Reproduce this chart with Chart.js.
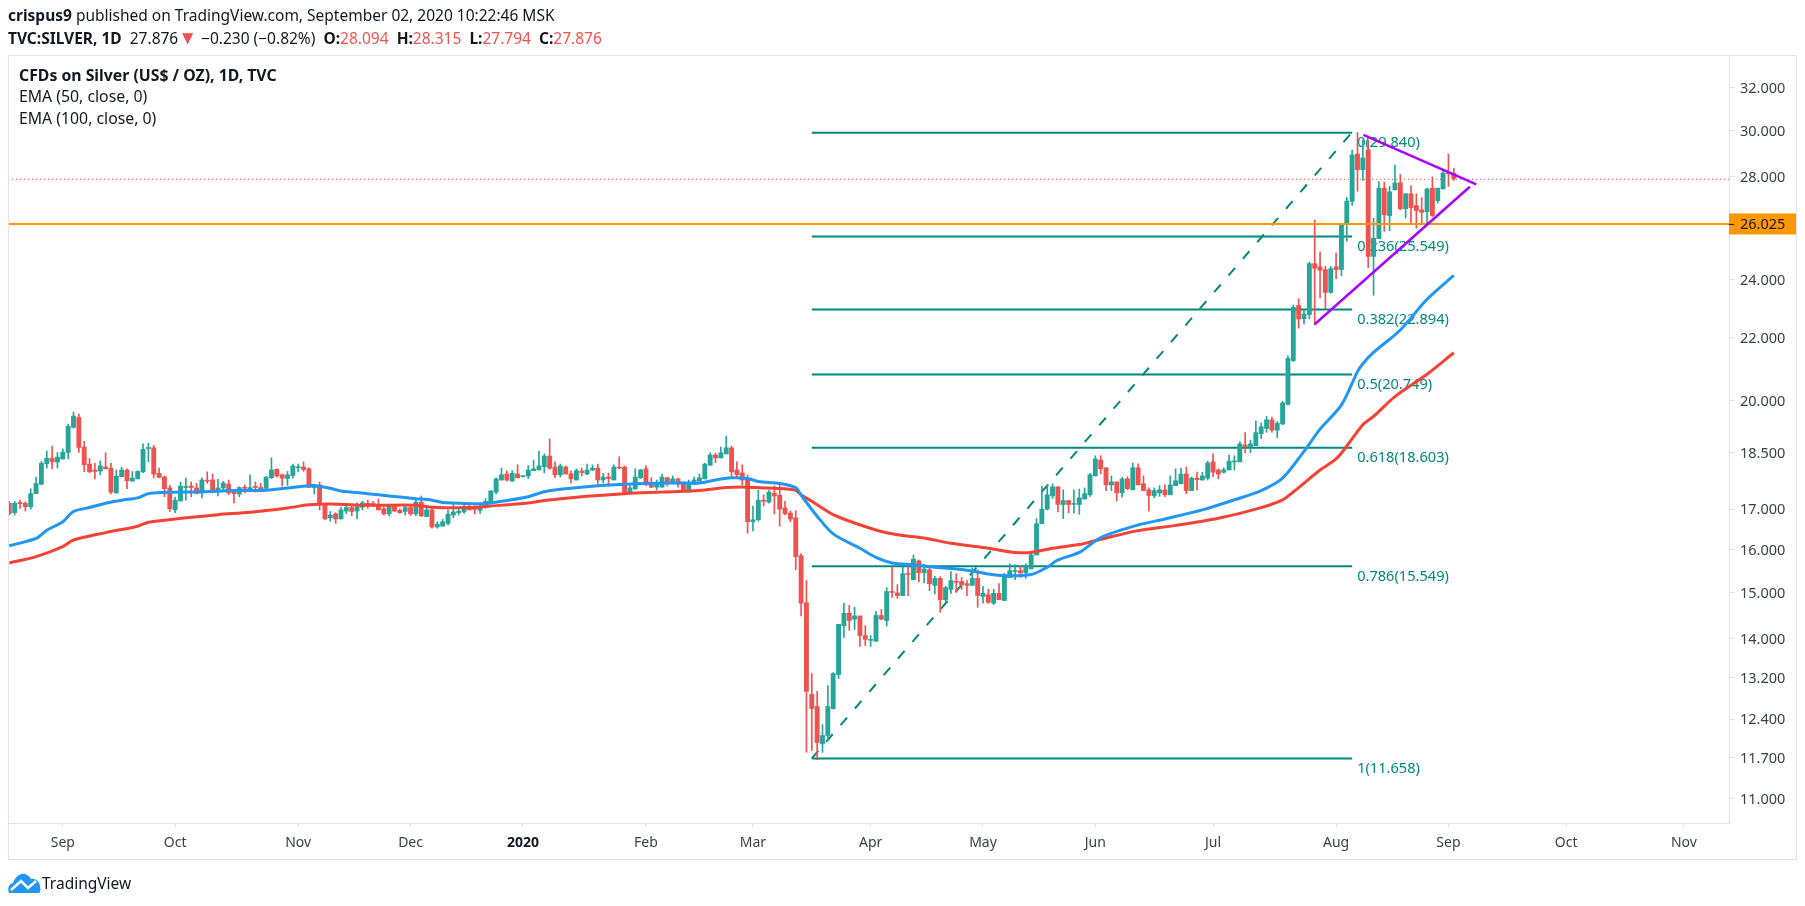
<!DOCTYPE html>
<html>
<head>
<meta charset="utf-8">
<title>TVC:SILVER, 1D</title>
<script src="https://cdn.jsdelivr.net/npm/chart.js@4/dist/chart.umd.min.js"></script>
<style>
  html, body { margin: 0; padding: 0; background: #fff; overflow: hidden; }
  body { width: 1805px; height: 906px; position: relative; font-family: "Noto Sans", sans-serif; color: #131722; }
  canvas { position: absolute; left: 0; top: 0; }
  .txt { position: absolute; white-space: nowrap; font-size: 15.5px; line-height: 20px; }
  .leg { font-size: 15.8px; }
  .red { color: #ef5350; }
  .tri { color: #ef5350; font-size: 19px; line-height: 0; }
  b { font-weight: 700; }
</style>
</head>
<body>
<canvas id="myChart" width="1805" height="906"></canvas>
<div class="txt" style="left:8px;top:5px"><b>crispus9</b> published on TradingView.com, September 02, 2020 10:22:46 MSK</div>
<div class="txt" style="left:8px;top:28px"><b>TVC:SILVER, 1D</b>&nbsp; 27.876<span class="tri">▼</span> −0.230 (−0.82%) &nbsp;<b>O:</b><span class="red">28.094</span> &nbsp;<b>H:</b><span class="red">28.315</span> &nbsp;<b>L:</b><span class="red">27.794</span> &nbsp;<b>C:</b><span class="red">27.876</span></div>
<div class="txt leg" style="left:19px;top:65px"><b>CFDs on Silver (US$ / OZ), 1D, TVC</b></div>
<div class="txt leg" style="left:19px;top:86px">EMA (50, close, 0)</div>
<div class="txt leg" style="left:19px;top:108px">EMA (100, close, 0)</div>
<svg style="position:absolute;left:8px;top:873px" width="33" height="20" viewBox="0 0 33 20">
  <path d="M1 20 C-1 15 1 11 5 10 C7 4 12 0 17 1 C20 2 22 4 23 6 C28 5 32 9 32 14 C33 17 32 19 31 20 Z" fill="#2196f3"/>
  <path d="M3 17 L13 8 L20 15 L28 8" fill="none" stroke="#fff" stroke-width="2.5"/>
</svg>
<div class="txt" style="left:42px;top:873px;font-size:15.5px">TradingView</div>
<script>
// daily candles
var opens = [
  17.15,16.91,17.17,17.15,17.06,17.40,17.65,18.20,18.35,18.25,
  18.33,18.51,19.22,19.51,18.66,18.19,18.03,18.00,18.11,18.08,
  17.42,17.85,18.03,17.73,17.79,17.98,18.62,18.64,17.94,17.84,
  17.55,16.98,17.21,17.56,17.60,17.55,17.42,17.75,17.76,17.49,
  17.55,17.65,17.44,17.39,17.56,17.53,17.59,17.56,17.54,17.82,
  18.05,17.90,17.80,17.88,18.09,18.11,18.06,17.56,17.63,17.13,
  16.78,16.88,16.75,16.95,17.04,16.95,17.05,17.15,17.15,17.11,
  17.01,16.88,17.08,16.97,16.94,17.04,16.88,17.18,16.81,16.98,
  16.55,16.57,16.64,16.85,16.91,16.93,17.06,17.05,16.97,17.05,
  17.17,17.44,17.76,17.92,17.73,17.92,17.85,17.87,18.01,18.03,
  18.12,18.41,18.11,17.90,18.11,17.93,17.76,18.00,17.92,18.03,
  18.08,17.76,17.84,17.76,18.10,18.11,17.44,17.52,17.82,18.06,
  17.67,17.57,17.57,17.82,17.67,17.79,17.67,17.44,17.65,17.73,
  17.79,18.16,18.44,18.36,18.47,18.64,18.03,17.95,17.78,16.68,
  16.73,17.23,17.18,17.41,17.36,17.03,16.90,16.78,15.85,14.77,
  12.87,12.64,11.95,12.10,12.60,13.26,14.27,14.54,14.41,14.48,
  14.06,13.96,13.94,14.49,14.38,15.02,14.99,14.93,15.43,15.29,
  15.73,15.45,15.52,15.16,15.32,14.84,15.07,15.25,15.25,15.20,
  15.16,15.32,14.91,14.95,14.76,14.98,14.82,15.34,15.48,15.50,
  15.45,15.54,15.87,16.63,17.00,17.34,17.58,17.12,17.22,17.12,
  17.12,17.26,17.37,17.87,18.30,18.09,17.63,17.71,17.42,17.79,
  17.50,18.09,17.66,17.50,17.35,17.42,17.50,17.37,17.61,17.66,
  17.92,17.48,17.81,17.76,17.81,18.25,18.03,17.97,18.03,18.25,
  18.25,18.72,18.67,18.70,19.04,19.19,19.44,19.14,19.32,19.90,
  21.25,23.08,22.63,22.77,24.58,24.46,24.36,23.54,24.47,24.36,
  26.10,26.99,28.98,28.30,29.16,24.85,25.52,27.53,26.42,27.46,
  27.75,26.69,27.30,26.82,26.65,26.57,27.53,27.02,27.50,28.18,28.15
];
var highs = [
  17.20,17.20,17.23,17.19,17.53,17.84,18.26,18.55,18.69,18.51,
  18.61,19.32,19.67,19.61,18.82,18.34,18.21,18.28,18.50,18.21,
  18.03,18.10,18.06,17.99,18.01,18.75,18.77,18.71,18.08,17.87,
  17.62,17.31,17.71,17.81,17.71,17.67,17.82,17.98,17.92,17.78,
  17.73,17.76,17.51,17.58,17.63,17.90,17.71,17.67,17.85,18.36,
  18.06,17.92,17.99,18.19,18.19,18.25,18.09,17.65,17.71,17.13,
  16.94,16.91,17.05,17.13,17.08,17.16,17.20,17.23,17.20,17.26,
  17.05,17.12,17.10,17.01,17.08,17.08,17.23,17.34,17.08,17.05,
  16.68,16.74,16.98,17.14,17.05,17.13,17.12,17.08,17.13,17.27,
  17.48,17.82,18.08,18.01,18.01,18.17,17.87,18.15,18.30,18.54,
  18.47,18.89,18.25,18.19,18.14,18.00,18.06,18.08,18.19,18.17,
  18.19,17.94,17.95,18.17,18.39,18.14,17.63,18.06,18.05,18.14,
  17.82,17.76,17.92,17.84,17.87,17.81,17.71,17.76,17.84,17.92,
  18.21,18.50,18.49,18.66,18.97,18.69,18.25,18.17,17.90,17.08,
  17.49,17.37,17.49,17.60,17.63,17.20,16.95,16.96,15.90,15.27,
  13.28,12.93,12.30,13.04,13.30,14.30,14.76,14.71,14.67,14.48,
  14.27,14.06,14.58,14.62,15.11,15.58,15.18,15.58,15.64,15.87,
  15.75,15.64,15.58,15.37,15.36,15.14,15.48,15.43,15.34,15.27,
  15.56,15.52,15.14,15.07,15.07,15.20,15.44,15.66,15.64,15.61,
  15.66,15.90,16.76,17.59,17.63,17.66,17.58,17.50,17.22,17.50,
  17.52,17.55,17.94,18.42,18.42,18.09,17.87,17.71,17.83,17.85,
  18.22,18.20,17.87,17.55,17.55,17.61,17.63,17.87,18.06,18.08,
  18.11,17.84,17.97,17.97,18.27,18.47,18.06,18.09,18.44,18.42,
  18.81,19.07,18.85,19.41,19.35,19.54,19.52,19.39,19.99,21.40,
  23.10,23.32,22.95,24.64,26.25,25.02,24.48,24.48,24.97,26.10,
  27.15,29.15,29.93,29.60,29.60,26.32,27.80,27.78,27.60,28.50,
  28.10,27.30,27.63,27.30,27.14,27.53,28.00,27.53,28.32,28.98,28.37
];
var lows = [
  16.85,16.85,17.02,16.95,17.00,17.40,17.63,18.08,18.06,18.08,
  18.33,18.33,19.20,18.51,17.98,17.96,17.79,17.90,18.06,17.39,
  17.41,17.84,17.53,17.73,17.79,17.96,18.25,17.82,17.82,17.32,
  16.94,16.91,17.21,17.23,17.32,17.39,17.29,17.67,17.42,17.34,
  17.47,17.37,17.16,17.32,17.42,17.53,17.44,17.48,17.51,17.80,
  17.84,17.60,17.62,17.81,17.98,17.99,17.56,17.39,16.98,16.74,
  16.69,16.64,16.75,16.88,16.83,16.75,16.98,17.02,17.06,16.98,
  16.85,16.83,16.94,16.89,16.85,16.84,16.83,16.81,16.81,16.52,
  16.52,16.57,16.60,16.78,16.85,16.89,16.98,16.88,16.89,17.02,
  17.15,17.39,17.76,17.73,17.73,17.82,17.84,17.80,18.01,18.03,
  17.95,18.05,17.82,17.84,17.92,17.68,17.76,17.87,17.90,18.01,
  17.62,17.68,17.60,17.76,18.06,17.41,17.39,17.52,17.80,17.60,
  17.56,17.49,17.57,17.60,17.67,17.57,17.44,17.44,17.65,17.73,
  17.79,18.16,18.23,18.36,18.47,17.87,17.82,17.63,16.40,16.45,
  16.70,17.08,17.15,16.88,16.57,16.85,16.68,15.52,14.48,11.80,
  11.83,11.67,11.80,12.00,12.59,13.18,14.02,14.17,14.19,13.83,
  13.85,13.83,13.94,14.40,14.26,14.89,14.87,14.93,14.93,15.29,
  15.24,15.22,15.04,14.97,14.56,14.80,14.98,15.00,15.07,14.93,
  15.16,14.67,14.76,14.76,14.73,14.84,14.82,15.34,15.29,15.34,
  15.32,15.54,15.87,16.63,16.98,17.27,16.93,16.76,16.91,16.90,
  16.87,17.26,17.33,17.87,17.92,17.48,17.48,17.21,17.31,17.50,
  17.50,17.63,17.48,16.95,17.29,17.33,17.32,17.37,17.61,17.66,
  17.40,17.48,17.50,17.76,17.76,17.85,17.79,17.94,18.03,18.03,
  18.25,18.50,18.50,18.70,18.90,19.08,19.08,18.93,19.30,19.88,
  21.22,22.31,22.44,22.62,22.42,23.35,22.97,23.51,24.03,24.14,
  25.42,26.83,27.40,27.85,24.43,23.44,25.52,25.80,25.83,27.46,
  26.65,26.32,26.10,25.93,26.10,26.10,26.38,26.92,27.50,27.60,27.85
];
var closes = [
  16.89,17.15,17.14,17.06,17.40,17.67,18.21,18.35,18.25,18.38,
  18.52,19.25,19.55,18.65,18.17,17.98,17.99,18.14,18.06,17.44,
  17.86,18.03,17.74,17.81,17.99,18.60,18.64,17.92,17.83,17.53,
  17.01,17.23,17.60,17.59,17.56,17.41,17.76,17.73,17.49,17.55,
  17.68,17.42,17.40,17.56,17.54,17.56,17.56,17.52,17.84,18.03,
  17.87,17.81,17.90,18.14,18.11,18.04,17.56,17.64,17.13,16.75,
  16.85,16.75,16.98,17.04,16.94,17.06,17.16,17.11,17.09,16.98,
  16.88,17.09,16.95,16.91,17.04,16.88,17.18,16.83,16.98,16.55,
  16.62,16.68,16.87,16.93,16.95,17.05,16.98,16.99,17.06,17.20,
  17.47,17.79,17.90,17.76,17.94,17.82,17.87,18.03,18.06,18.14,
  18.41,18.08,17.90,18.14,17.92,17.79,18.01,17.96,18.03,18.08,
  17.76,17.84,17.80,18.11,18.08,17.44,17.55,17.84,18.03,17.67,
  17.57,17.65,17.84,17.67,17.79,17.65,17.47,17.67,17.76,17.82,
  18.19,18.44,18.36,18.50,18.64,17.98,17.90,17.76,16.68,16.73,
  17.23,17.20,17.44,17.34,17.00,16.88,16.75,15.83,14.76,12.93,
  12.60,11.97,12.10,12.64,13.28,14.30,14.54,14.38,14.48,14.06,
  13.98,13.98,14.49,14.41,15.02,15.00,14.93,15.43,15.41,15.77,
  15.45,15.54,15.20,15.32,14.84,15.11,15.27,15.23,15.18,15.16,
  15.32,14.93,14.98,14.78,14.98,14.84,15.37,15.50,15.50,15.45,
  15.60,15.87,16.63,17.00,17.37,17.58,17.12,17.22,17.12,17.14,
  17.29,17.40,17.90,18.33,18.06,17.63,17.71,17.42,17.79,17.53,
  18.09,17.63,17.48,17.35,17.48,17.50,17.37,17.63,17.74,17.92,
  17.48,17.81,17.77,17.87,18.22,17.97,17.92,18.03,18.27,18.27,
  18.75,18.67,18.75,19.07,19.24,19.44,19.14,19.34,19.94,21.32,
  23.02,22.62,22.79,24.58,24.41,24.34,23.54,24.40,24.36,26.10,
  27.00,28.94,28.30,28.81,24.85,25.54,27.53,26.45,27.38,27.75,
  26.69,27.30,26.74,26.62,26.55,27.50,26.42,27.53,28.16,28.14,27.93
];

// EMA lines, read at these bars
var ema50Bars = [0,5,7,10,12,15,18,21,24,26,29,36,42,48,52,56,57,60,62,67,71,76,79,81,86,89,92,97,100,104,110,114,119,126,129,132,135,138,140,144,147,148,151,154,159,162,165,169,173,179,183,186,191,194,196,200,204,211,216,223,229,234,238,242,245,249,252,253,255,260,265,270];
var ema50 = [16.09,16.27,16.47,16.68,16.94,17.04,17.15,17.23,17.29,17.40,17.43,17.45,17.48,17.49,17.55,17.61,17.61,17.54,17.47,17.40,17.34,17.27,17.23,17.17,17.14,17.14,17.20,17.32,17.45,17.53,17.61,17.64,17.67,17.68,17.68,17.76,17.82,17.80,17.72,17.67,17.56,17.36,16.82,16.38,16.03,15.81,15.68,15.64,15.58,15.51,15.42,15.38,15.41,15.58,15.75,15.93,16.29,16.60,16.75,16.98,17.24,17.48,17.81,18.54,19.17,19.88,20.90,21.15,21.51,22.25,23.30,24.15];
var ema100Bars = [0,5,10,12,18,24,26,29,33,39,45,52,56,60,67,76,79,86,90,97,100,108,115,122,129,134,138,143,147,148,150,154,158,163,167,171,176,183,188,191,195,200,202,205,211,218,226,233,238,241,245,248,250,253,255,259,265,270];
var ema100 = [15.68,15.83,16.07,16.23,16.41,16.57,16.67,16.72,16.78,16.86,16.92,17.03,17.11,17.13,17.10,17.10,17.05,17.04,17.08,17.16,17.22,17.33,17.40,17.44,17.48,17.56,17.57,17.54,17.49,17.37,17.20,16.86,16.65,16.44,16.34,16.28,16.15,16.03,15.93,15.93,16.03,16.12,16.18,16.28,16.46,16.59,16.77,17.00,17.24,17.56,18.03,18.33,18.69,19.30,19.54,20.13,20.82,21.50];

// fibonacci drawing
var fibLevels = [29.92,25.60,22.94,20.81,18.64,15.60,11.69];
var fibLabels = ['0(29.840)','0.236(25.549)','0.382(22.894)','0.5(20.749)','0.618(18.603)','0.786(15.549)','1(11.658)'];
var fibBars = [150,251];
var trendBars = [150,250.9];
var trendPrices = [11.69,29.92];

// triangle
var triTopBars = [253.1,274.2];
var triTopPrices = [29.82,27.69];
var triLowBars = [244,273];
var triLowPrices = [22.44,27.59];

var supportLevel = 26.09;
var supportLabel = '26.025';
var lastPrice = 27.90;

// axes
var priceTicks = [32,30,28,24,22,20,18.5,17,16,15,14,13.2,12.4,11.7,11];
var monthBars = [10,31,54,75,96,119,139,161,182,203,225,248,269,291,313];
var monthLabels = ['Sep','Oct','Nov','Dec','2020','Feb','Mar','Apr','May','Jun','Jul','Aug','Sep','Oct','Nov'];

var UP = '#26a69a', DOWN = '#ef5350', TEAL = '#00897b', PURPLE = '#aa00ff', ORANGE = '#ff9800', FRAME = '#e0e3eb';
var AXIS_TEXT = '#3d4048';

function candleColor(ctx) {
    return closes[ctx.dataIndex] >= opens[ctx.dataIndex] ? UP : DOWN;
}
function lineSet(xs, ys, color, width, dash, order, tension) {
    return {
        type: 'line',
        data: xs.map(function (x, i) { return { x: x, y: ys[i] }; }),
        borderColor: color,
        borderWidth: width,
        borderDash: dash || [],
        pointRadius: 0,
        tension: tension || 0,
        order: order
    };
}

var xMin = -0.243, xMax = 321.44;
var datasets = [
    {
        label: 'wick',
        data: opens.map(function (o, i) { return { x: i, y: [lows[i], highs[i]] }; }),
        backgroundColor: candleColor,
        barThickness: 1,
        grouped: false,
        order: 6
    },
    {
        label: 'body',
        data: opens.map(function (o, i) { return { x: i, y: [o, closes[i]] }; }),
        backgroundColor: candleColor,
        barThickness: 4.2,
        minBarLength: 1,
        grouped: false,
        order: 5
    },
    lineSet([xMin, xMax], [lastPrice, lastPrice], DOWN, 1, [1, 3], 8),
    lineSet([xMin, xMax], [supportLevel, supportLevel], ORANGE, 2, null, 4),
    lineSet(trendBars, trendPrices, TEAL, 2, [10, 12], 7),
    lineSet(ema100Bars, ema100, '#f44336', 3, null, 3, 0.3),
    lineSet(ema50Bars, ema50, '#2196f3', 3, null, 2, 0.3),
    lineSet(triTopBars, triTopPrices, PURPLE, 2.5, null, 1),
    lineSet(triLowBars, triLowPrices, PURPLE, 2.5, null, 1)
];
fibLevels.forEach(function (v) {
    datasets.push(lineSet(fibBars, [v, v], TEAL, 2, null, 7));
});

// fib labels go under the candles, price box and frame on top
var extras = {
    id: 'extras',
    beforeDatasetsDraw: function (chart) {
        var c = chart.ctx, x = chart.scales.x, y = chart.scales.y;
        c.save();
        c.font = '14.6px "Noto Sans"';
        c.fillStyle = TEAL;
        c.textAlign = 'left';
        c.textBaseline = 'middle';
        fibLevels.forEach(function (v, i) {
            c.fillText(fibLabels[i], x.getPixelForValue(fibBars[1]) + 5, y.getPixelForValue(v) + 10);
        });
        c.restore();
    },
    afterDraw: function (chart) {
        var c = chart.ctx, a = chart.chartArea, y = chart.scales.y;
        var py = y.getPixelForValue(supportLevel);
        c.save();
        c.strokeStyle = FRAME;
        c.lineWidth = 1;
        c.strokeRect(8.5, 55.5, 1788, 804);
        c.fillStyle = ORANGE;
        c.fillRect(a.right, py - 10.5, 67, 21);
        c.fillStyle = '#131722';
        c.fillRect(a.right, py, 5, 1);
        c.font = '14.5px "Noto Sans"';
        c.textAlign = 'left';
        c.textBaseline = 'middle';
        c.fillText(supportLabel, a.right + 11, py + 1);
        c.restore();
    }
};

var myChart = new Chart(document.getElementById('myChart').getContext('2d'), {
    type: 'bar',
    data: { datasets: datasets },
    plugins: [extras],
    options: {
        responsive: false,
        animation: false,
        layout: { padding: { left: 8, top: 55, right: 9, bottom: 47 } },
        plugins: { legend: { display: false }, tooltip: { enabled: false } },
        scales: {
            x: {
                type: 'linear',
                min: xMin,
                max: xMax,
                offset: false,
                afterFit: function (s) { s.height = 36; },
                afterBuildTicks: function (s) {
                    s.ticks = monthBars.map(function (b) { return { value: b }; });
                },
                grid: { drawOnChartArea: false, tickLength: 4, tickColor: FRAME, offset: false },
                border: { color: FRAME },
                ticks: {
                    autoSkip: false,
                    maxRotation: 0,
                    minRotation: 0,
                    padding: 8,
                    color: function (ctx) { return ctx.tick && ctx.tick.label === '2020' ? '#131722' : AXIS_TEXT; },
                    font: function (ctx) {
                        var bold = ctx.tick && ctx.tick.label === '2020';
                        return { family: '"Noto Sans"', size: 14, weight: bold ? 'bold' : 'normal' };
                    },
                    callback: function (value, i) { return monthLabels[i]; }
                }
            },
            y: {
                type: 'logarithmic',
                position: 'right',
                min: 10.61,
                max: 33.626,
                afterFit: function (s) { s.width = 67; },
                afterBuildTicks: function (s) {
                    s.ticks = priceTicks.map(function (v) { return { value: v }; });
                },
                grid: { drawOnChartArea: false, tickLength: 6, tickColor: FRAME },
                border: { color: FRAME },
                ticks: {
                    autoSkip: false,
                    padding: 5,
                    labelOffset: 1,
                    color: AXIS_TEXT,
                    font: { family: '"Noto Sans"', size: 14.5 },
                    callback: function (value) { return Number(value).toFixed(3); }
                }
            }
        }
    }
});
</script>
</body>
</html>
